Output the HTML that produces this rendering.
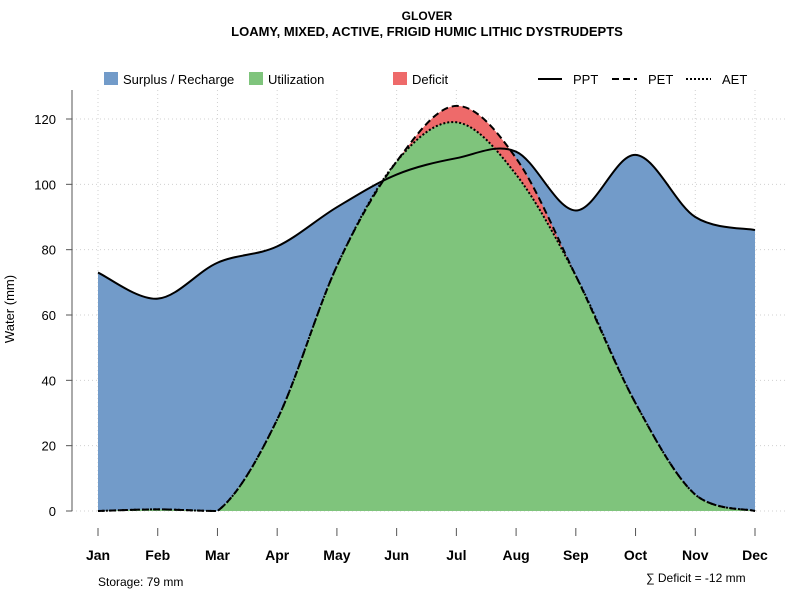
<!DOCTYPE html>
<html><head><meta charset="utf-8"><style>
body{margin:0;background:#fff;}
svg text{font-family:"Liberation Sans",sans-serif;}
</style></head><body>
<svg id="chart" width="800" height="600" xmlns="http://www.w3.org/2000/svg">
<text x="427" y="20" text-anchor="middle" font-size="12" font-weight="bold">GLOVER</text>
<text x="427" y="36" text-anchor="middle" font-size="13" font-weight="bold">LOAMY, MIXED, ACTIVE, FRIGID HUMIC LITHIC DYSTRUDEPTS</text>
<g id="grid"></g>
<g id="areas"></g>
<g id="lines"></g>
<g id="axes"></g>
<g>
<rect x="104" y="72" width="14" height="13" fill="#729bc9"/>
<text x="123" y="84" font-size="13">Surplus / Recharge</text>
<rect x="249" y="72" width="14" height="13" fill="#7fc47c"/>
<text x="268" y="84" font-size="13">Utilization</text>
<rect x="393" y="72" width="14" height="13" fill="#ee6a6a"/>
<text x="412" y="84" font-size="13">Deficit</text>
<line x1="538" y1="79" x2="562" y2="79" stroke="#000" stroke-width="2"/>
<text x="573" y="84" font-size="13">PPT</text>
<line x1="612" y1="79" x2="637" y2="79" stroke="#000" stroke-width="2" stroke-dasharray="7,4"/>
<text x="648" y="84" font-size="13">PET</text>
<line x1="686" y1="79" x2="711" y2="79" stroke="#000" stroke-width="2" stroke-dasharray="2,2"/>
<text x="722" y="84" font-size="13">AET</text>
</g>
<text transform="translate(14,309) rotate(-90)" text-anchor="middle" font-size="13">Water (mm)</text>
<text x="98" y="586" font-size="12">Storage: 79 mm</text>
<text x="646" y="582" font-size="12">∑ Deficit = -12 mm</text>
</svg>
<script>
const months=["Jan","Feb","Mar","Apr","May","Jun","Jul","Aug","Sep","Oct","Nov","Dec"];
const ppt=[73,65,76,81,93,103,108,110,92,109,90,86];
const pet=[0,0.5,0,28,75,107,124,108,72,33,5,0];
const aet=[0,0.5,0,28,75,107,119,103,72,33,5,0];
const yTicks=[0,20,40,60,80,100,120];
const NS="http://www.w3.org/2000/svg";
const xs=i=>98+i*(755-98)/11;
const ys=v=>511-v*(392/120);
function pts(arr){return arr.map((v,i)=>[xs(i),ys(v)]);}
function spline(p){const yb=ys(0);let d="M"+p[0][0]+","+p[0][1];
for(let i=0;i<p.length-1;i++){const p0=p[i-1]||p[i],p1=p[i],p2=p[i+1],p3=p[i+2]||p2;
const c1=[p1[0]+(p2[0]-p0[0])/6,Math.min(yb,p1[1]+(p2[1]-p0[1])/6)],c2=[p2[0]-(p3[0]-p1[0])/6,Math.min(yb,p2[1]-(p3[1]-p1[1])/6)];
d+=` C${c1[0]},${c1[1]} ${c2[0]},${c2[1]} ${p2[0]},${p2[1]}`;}return d;}
function mk(tag,attrs,parent){const e=document.createElementNS(NS,tag);for(const k in attrs)e.setAttribute(k,attrs[k]);document.getElementById(parent).appendChild(e);return e;}
const base=` L${xs(11)},${ys(0)} L${xs(0)},${ys(0)} Z`;
let e;
e=mk("path",{d:spline(pts(ppt))+base,fill:"#729bc9"},"areas");


e=mk("path",{d:spline(pts(pet))+base,fill:"#ee6a6a"},"areas");


e=mk("path",{d:spline(pts(aet))+base,fill:"#7fc47c"},"areas");


e=mk("path",{d:spline(pts(ppt)),fill:"none",stroke:"#000","stroke-width":2},"lines");


e=mk("path",{d:spline(pts(aet)),fill:"none",stroke:"#000","stroke-width":2,"stroke-dasharray":"2,2"},"lines");


e=mk("path",{d:spline(pts(pet)),fill:"none",stroke:"#000","stroke-width":2,"stroke-dasharray":"7,4"},"lines");


yTicks.forEach(v=>{
 e=mk("line",{x1:72,x2:785,y1:ys(v),y2:ys(v),stroke:"#d0d0d0","stroke-dasharray":"1,3"},"grid");
 
 
 e=mk("line",{x1:66,x2:72,y1:ys(v),y2:ys(v),stroke:"#555"},"axes");
 
 
 e=mk("text",{x:56,y:ys(v)+5,"text-anchor":"end","font-size":"13"},"axes");e.textContent=v;
 
 
});
e=mk("line",{x1:72,x2:72,y1:90,y2:511,stroke:"#555"},"axes");


months.forEach((m,i)=>{
 e=mk("line",{x1:xs(i),x2:xs(i),y1:90,y2:511,stroke:"#d0d0d0","stroke-dasharray":"1,3"},"grid");
 
 
 e=mk("line",{x1:xs(i),x2:xs(i),y1:528,y2:536,stroke:"#555"},"axes");
 
 
 e=mk("text",{x:xs(i),y:560,"text-anchor":"middle","font-size":"14","font-weight":"bold"},"axes");e.textContent=m;
 
 
});
</script>
</body></html>
